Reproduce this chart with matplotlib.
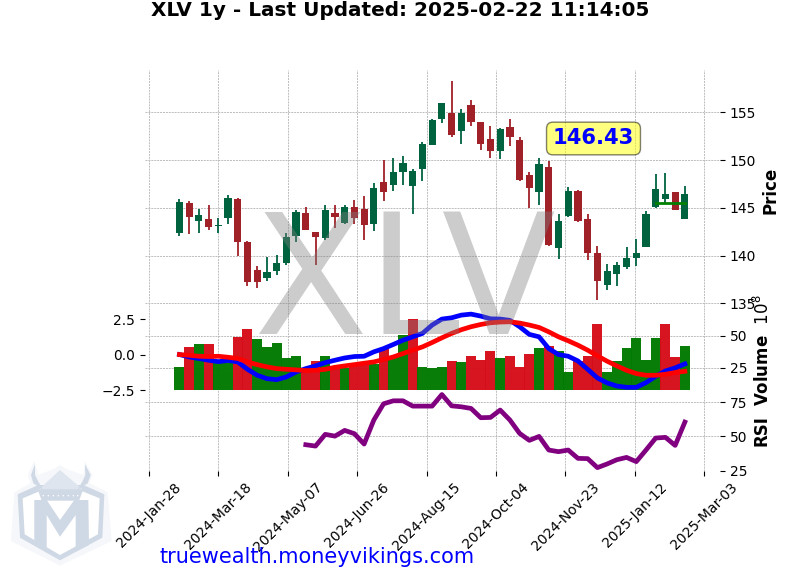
import numpy as np
import pandas as pd
import matplotlib
matplotlib.use("Agg")
import matplotlib.pyplot as plt
import matplotlib.dates as mdates
from matplotlib.patches import Polygon, Circle

title = "XLV 1y - Last Updated: 2025-02-22 11:14:05"
symbol = "XLV"
last_price = "146.43"
site = "truewealth.moneyvikings.com"

dates = pd.date_range("2024-02-19", periods=53, freq="7D")

opens = [142.40, 145.50, 143.66, 143.83, 143.13, 143.97, 145.96, 141.42, 138.46, 137.69,
         138.39, 139.26, 142.08, 144.42, 142.43, 141.88, 144.46, 143.41, 145.09, 144.84,
         143.34, 147.67, 147.39, 148.79, 147.32, 149.10, 151.61, 154.33, 154.93, 153.08,
         155.73, 153.99, 152.17, 150.98, 153.43, 152.07, 148.40, 146.69, 149.24, 140.83,
         144.18, 146.73, 143.79, 140.23, 136.95, 138.11, 138.80, 139.78, 140.93, 145.09,
         145.96, 146.66, 143.86]
highs = [145.96, 145.75, 144.91, 145.33, 143.93, 146.38, 146.03, 141.53, 138.91, 139.89,
         140.06, 142.33, 144.74, 145.12, 142.43, 145.33, 145.26, 145.33, 145.82, 146.27,
         147.63, 150.04, 150.25, 150.46, 149.10, 151.86, 154.26, 155.97, 158.31, 155.38,
         156.32, 153.99, 153.60, 153.36, 154.33, 152.45, 148.79, 150.22, 149.94, 144.39,
         147.15, 146.90, 144.35, 141.04, 139.12, 139.36, 140.93, 141.77, 144.63, 148.58,
         148.68, 146.66, 147.32]
lows = [142.01, 142.22, 142.36, 142.68, 142.33, 143.27, 139.96, 136.78, 136.61, 137.30,
        137.93, 139.01, 141.42, 142.64, 139.01, 141.63, 142.85, 143.31, 143.27, 141.63,
        142.54, 145.68, 146.73, 147.42, 144.35, 147.77, 151.54, 153.85, 152.38, 151.68,
        153.57, 151.02, 150.18, 150.08, 151.44, 147.77, 144.98, 145.26, 140.97, 139.61,
        144.07, 143.48, 139.50, 135.31, 136.40, 136.78, 138.56, 138.87, 140.90, 144.95,
        145.54, 144.77, 143.86]
closes = [145.57, 144.07, 144.25, 142.99, 143.20, 145.99, 141.42, 137.27, 137.27, 138.28,
          139.19, 141.95, 144.56, 142.68, 141.95, 144.77, 144.04, 145.09, 143.97, 143.24,
          147.04, 146.69, 148.72, 149.66, 148.82, 151.68, 154.19, 155.97, 152.66, 154.89,
          154.02, 151.72, 150.98, 153.25, 152.45, 147.95, 147.11, 149.55, 141.14, 143.59,
          146.73, 143.62, 140.30, 137.37, 138.35, 138.98, 139.71, 140.23, 144.35, 146.94,
          146.41, 144.81, 146.43]
volumes = [26.0, 40.9, 43.2, 43.2, 29.2, 28.6, 48.7, 54.9, 47.1, 40.9,
           44.0, 32.6, 33.9, 24.7, 30.7, 33.9, 26.8, 24.7, 27.6, 27.3,
           28.1, 39.8, 33.1, 50.3, 62.8, 25.3, 24.7, 25.3, 30.7, 29.7,
           33.9, 31.5, 37.8, 32.3, 33.9, 25.3, 35.4, 40.1, 41.7, 37.8,
           22.1, 30.7, 33.9, 58.9, 22.1, 30.7, 40.1, 47.9, 31.5, 47.9,
           58.9, 33.1, 41.7]
macd = [0.00, -0.17, -0.28, -0.40, -0.50, -0.42, -0.52, -1.04, -1.46, -1.70,
        -1.77, -1.58, -1.23, -0.99, -0.80, -0.57, -0.40, -0.24, -0.14, -0.12,
        0.19, 0.42, 0.71, 1.01, 1.25, 1.49, 2.08, 2.50, 2.59, 2.78,
        2.85, 2.71, 2.52, 2.50, 2.41, 1.96, 1.42, 1.25, 0.42, 0.00,
        -0.12, -0.45, -1.04, -1.65, -2.00, -2.22, -2.31, -2.31, -1.98, -1.53,
        -1.16, -0.94, -0.66]
signal = [0.00, -0.05, -0.12, -0.14, -0.12, -0.19, -0.28, -0.52, -0.71, -0.87,
          -0.99, -1.04, -1.08, -1.13, -1.11, -1.04, -0.90, -0.80, -0.71, -0.61,
          -0.52, -0.35, -0.17, 0.07, 0.31, 0.54, 0.85, 1.18, 1.49, 1.75,
          1.96, 2.12, 2.24, 2.29, 2.31, 2.22, 2.08, 1.91, 1.60, 1.25,
          0.97, 0.66, 0.31, -0.09, -0.47, -0.80, -1.11, -1.34, -1.46, -1.46,
          -1.39, -1.27, -1.18]
rsi = [np.nan] * 13 + [43.9, 42.9, 51.5, 50.2, 54.4, 52.0, 44.4, 62.0, 73.9, 76.1,
                       76.1, 72.2, 72.2, 72.2, 80.7, 72.4, 71.7, 70.5, 63.7, 63.9,
                       69.3, 62.0, 52.2, 47.1, 50.0, 40.0, 38.8, 40.0, 33.9, 33.7,
                       27.1, 29.8, 32.9, 34.6, 31.5, 40.0, 48.8, 49.3, 43.4, 60.5]
support = [145.46, 145.46, 145.46, 145.46]

date_ticks = ["2024-01-28", "2024-03-18", "2024-05-07", "2024-06-26", "2024-08-15",
              "2024-10-04", "2024-11-23", "2025-01-12", "2025-03-03"]
date_labels = ["2024-Jan-28", "2024-Mar-18", "2024-May-07", "2024-Jun-26", "2024-Aug-15",
               "2024-Oct-04", "2024-Nov-23", "2025-Jan-12", "2025-Mar-03"]

UP, DOWN = "#006340", "#a02128"
VOL_UP, VOL_DOWN = "#007a00", "#d50d18"
GRID = dict(color="#bcbcbc", linestyle=(0, (2, 1)), linewidth=0.7)

W, H = 800, 575


def panel(top, bottom):
    return fig.add_axes([145 / W, 1 - bottom / H, 575 / W, (bottom - top) / H])


fig = plt.figure(figsize=(W / 100, H / 100), dpi=100)
ax_price = panel(70, 310)
ax_vol = panel(310, 390.3)
ax_rsi = panel(390.3, 470.5)
ax_macd = ax_vol.twinx()

x_start = mdates.date2num(pd.Timestamp("2024-01-28")) - 2.8
x_end = x_start + 414.1

for ax in (ax_price, ax_vol, ax_rsi, ax_macd):
    ax.set_xlim(x_start, x_end)
    ax.set_facecolor("none")
    for side in ax.spines:
        ax.spines[side].set_visible(False)

for ax in (ax_price, ax_vol, ax_rsi):
    ax.yaxis.tick_right()
    ax.yaxis.set_label_position("right")
    ax.grid(True, **GRID)
    ax.set_axisbelow(True)
    ax.set_xticks(mdates.date2num(pd.to_datetime(date_ticks)))
    ax.tick_params(axis="y", labelsize=10)

# candles
x = mdates.date2num(dates)
o, h, l, c = map(np.array, (opens, highs, lows, closes))
candle_colors = [UP if cl >= op else DOWN for op, cl in zip(o, c)]
ax_price.vlines(x, l, h, colors=candle_colors, linewidth=1.3, zorder=2)
ax_price.bar(x, np.abs(c - o), bottom=np.minimum(o, c), width=5.2, color=candle_colors, zorder=3)
ax_price.plot(x[-4:], support, color="green", linewidth=2, zorder=4)
ax_price.set_ylim(134.3, 159.43)
ax_price.set_yticks([135, 140, 145, 150, 155])
ax_price.set_ylabel("Price", fontsize=12, fontweight="bold")
ax_price.tick_params(axis="x", length=0, labelbottom=False)

# volume
vol_colors = [VOL_UP]
for i in range(1, len(c)):
    vol_colors.append(VOL_UP if c[i] >= c[i - 1] else VOL_DOWN)
ax_vol.bar(x, volumes, width=7.2, color=vol_colors, alpha=0.97)
ax_vol.set_ylim(7.55, 70)
ax_vol.set_yticks([25, 50])
ax_vol.set_ylabel("Volume  $10^{8}$", fontsize=12, fontweight="bold")
ax_vol.tick_params(axis="x", length=0, labelbottom=False)

# macd on the left side of the volume panel
ax_macd.plot(x, macd, color="blue", linewidth=3.4)
ax_macd.plot(x, signal, color="red", linewidth=3.4)
ax_macd.set_ylim(-2.52, 3.14)
ax_macd.yaxis.tick_left()
ax_macd.set_yticks([-2.5, 0, 2.5])
ax_macd.tick_params(axis="y", labelsize=10)
ax_macd.tick_params(axis="x", length=0, labelbottom=False)

# rsi
ax_rsi.plot(x, rsi, color="purple", linewidth=3.4)
ax_rsi.set_ylim(25, 83.8)
ax_rsi.set_yticks([25, 50, 75])
ax_rsi.set_ylabel("RSI", fontsize=12, fontweight="bold")
ax_rsi.set_xticks(mdates.date2num(pd.to_datetime(date_ticks)))
ax_rsi.set_xticklabels(date_labels, rotation=45, fontsize=10)

fig.text(0.5, 1 - 10 / H, title, ha="center", va="center", fontsize=14.4, fontweight="bold")
fig.text(404 / W, 1 - 288 / H, symbol, ha="center", va="center", fontsize=120, color="grey", alpha=0.4)
fig.text(593.5 / W, 1 - 138.5 / H, last_price, ha="center", va="center", fontsize=15.2,
         fontweight="bold", color="blue",
         bbox=dict(boxstyle="round", facecolor="yellow", edgecolor="black", alpha=0.5))
fig.text(160 / W, 1 - 557 / H, site, ha="left", va="center", fontsize=15, color="blue")

# logo, drawn in pixel coordinates of a 3x crop starting at (5, 455)
logo = fig.add_axes([0, 0, 1, 1], zorder=-1)
logo.set_xlim(0, 3 * W)
logo.set_ylim(3 * H, 0)
logo.axis("off")


def shape(points, color):
    pts = [(px + 15, py + 1365) for px, py in points]
    logo.add_patch(Polygon(pts, closed=True, facecolor=color, edgecolor="none"))


LOGO = "#cfd8e5"
shape([(165, 30), (230, 72), (308, 112), (320, 258), (165, 332), (18, 258), (28, 112), (100, 72)], "#f5f7fa")
shape([(88, 18), (68, 60), (80, 95), (115, 115), (215, 115), (250, 95), (262, 60), (240, 18), (235, 60),
       (165, 35), (100, 60)], "#f5f7fa")
shape([(100, 90), (38, 118), (45, 248), (165, 316), (292, 248), (298, 118), (235, 90)], LOGO)
shape([(105, 108), (53, 130), (59, 238), (165, 300), (279, 238), (284, 130), (230, 108)], "white")
shape([(100, 105), (165, 45), (235, 105)], "#dfe5ee")
shape([(90, 28), (78, 60), (85, 85), (115, 105), (100, 80), (90, 60)], LOGO)
shape([(240, 28), (257, 60), (248, 85), (217, 105), (232, 80), (241, 60)], LOGO)
shape([(98, 103), (235, 103), (222, 137), (110, 137)], LOGO)
shape([(88, 135), (125, 135), (165, 195), (208, 135), (250, 135), (252, 270), (212, 290), (212, 180),
       (165, 245), (125, 180), (125, 290), (88, 270)], LOGO)
for dot in (115, 130, 145, 160, 175, 190, 205, 218):
    logo.add_patch(Circle((dot + 15, 1365 + 122), 2.2, facecolor="white", edgecolor="none"))

fig.savefig("out.png", dpi=100)
